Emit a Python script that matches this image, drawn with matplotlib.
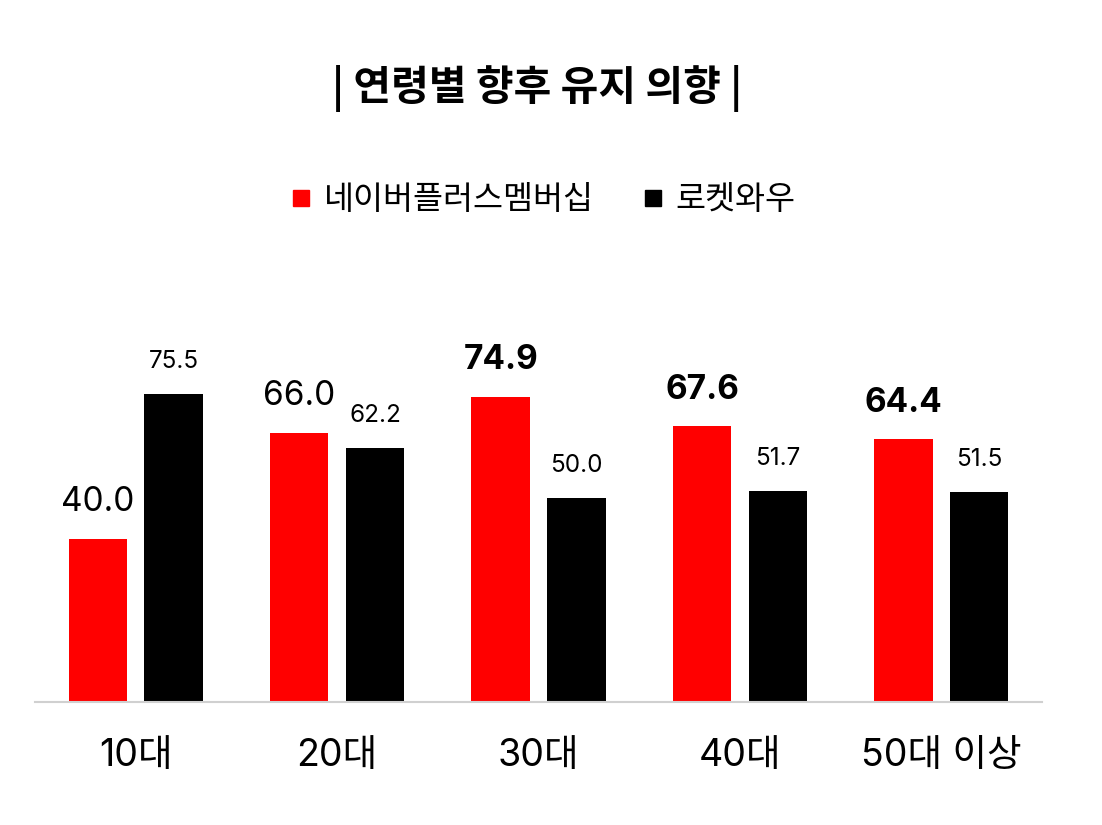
import matplotlib
matplotlib.use('Agg')
import matplotlib.pyplot as plt
from matplotlib.lines import Line2D
import numpy as np

plt.rcParams['font.family'] = ['Noto Sans CJK KR', 'DejaVu Sans']
num_font = ['Inter', 'Noto Sans CJK KR']

categories = ['10대', '20대', '30대', '40대', '50대 이상']
naver = [40.0, 66.0, 74.9, 67.6, 64.4]
rocket = [75.5, 62.2, 50.0, 51.7, 51.5]
naver_bold = [False, False, True, True, True]

fig = plt.figure(figsize=(11.02, 8.25), dpi=100)
ax = fig.add_axes([0.0318, 0.149, 0.9138, 0.4945])

x = np.arange(len(categories))
w = 0.29
off = 0.188
ax.bar(x - off, naver, w, color='#ff0000')
ax.bar(x + off, rocket, w, color='#000000')

for i in range(len(categories)):
    ax.annotate(f'{naver[i]:.1f}', (x[i] - off, naver[i]), xytext=(0, 20),
                textcoords='offset points', ha='center', va='baseline',
                fontsize=24, family=num_font,
                fontweight='bold' if naver_bold[i] else 'normal')
    ax.annotate(f'{rocket[i]:.1f}', (x[i] + off, rocket[i]), xytext=(0, 19),
                textcoords='offset points', ha='center', va='baseline',
                fontsize=17.5, family=num_font)

ax.set_xlim(-0.5, 4.5)
ax.set_ylim(0, 100)
ax.set_xticks(x)
ax.set_xticklabels(categories, fontsize=27, family=num_font)
ax.tick_params(axis='x', length=0, pad=26)
ax.set_yticks([])
for s in ['top', 'right', 'left']:
    ax.spines[s].set_visible(False)
ax.spines['bottom'].set_color('#d0d0d0')
ax.spines['bottom'].set_linewidth(1.5)

fig.text(0.487, 1 - 88 / 825, '| 연령별 향후 유지 의향 |', ha='center', va='center',
         fontsize=29.5, fontweight='bold')

handles = [Line2D([], [], marker='s', linestyle='', color='#ff0000', markersize=11),
           Line2D([], [], marker='s', linestyle='', color='#000000', markersize=11)]
fig.legend(handles, ['네이버플러스멤버십', '로켓와우'], loc='center',
           bbox_to_anchor=(0.49, 1 - 200 / 825), ncol=2, frameon=False,
           fontsize=23.5, handletextpad=0.2, columnspacing=1.3, handlelength=1.0)

fig.savefig('out.png', dpi=100)
